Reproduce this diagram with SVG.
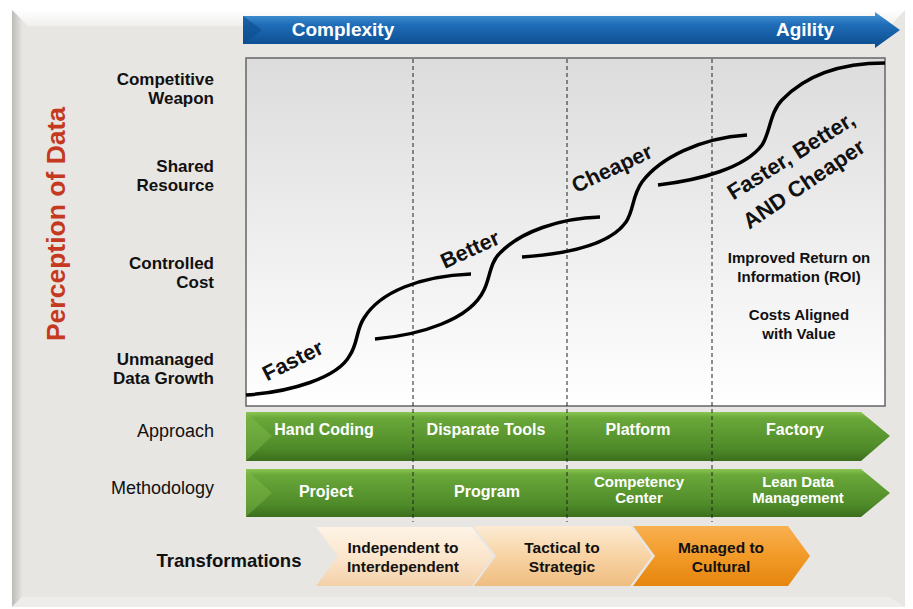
<svg xmlns="http://www.w3.org/2000/svg" width="913" height="609" viewBox="0 0 913 609">
<defs>
<linearGradient id="gLeft" x1="0" y1="0" x2="1" y2="0"><stop offset="0" stop-color="#bdbbb8"/><stop offset="1" stop-color="#e6e4e1"/></linearGradient>
<linearGradient id="gTop" x1="0" y1="0" x2="0" y2="1"><stop offset="0" stop-color="#ffffff"/><stop offset="1" stop-color="#f0efed"/></linearGradient>
<linearGradient id="gBlue" x1="0" y1="0" x2="0" y2="1"><stop offset="0" stop-color="#4a9ad8"/><stop offset="0.35" stop-color="#1f6db8"/><stop offset="1" stop-color="#0a4a8c"/></linearGradient>
<linearGradient id="gChart" x1="0" y1="0" x2="0" y2="1"><stop offset="0" stop-color="#dcdcdc"/><stop offset="1" stop-color="#ffffff"/></linearGradient>
<linearGradient id="gGreen" x1="0" y1="0" x2="0" y2="1"><stop offset="0" stop-color="#8cc653"/><stop offset="0.12" stop-color="#6aa83a"/><stop offset="0.75" stop-color="#4e8a28"/><stop offset="1" stop-color="#3c6e1c"/></linearGradient>
<linearGradient id="gT1" x1="0" y1="0" x2="0" y2="1"><stop offset="0" stop-color="#fdf3e6"/><stop offset="0.5" stop-color="#fbe6cd"/><stop offset="1" stop-color="#f3d1a8"/></linearGradient>
<linearGradient id="gT2" x1="0" y1="0" x2="0" y2="1"><stop offset="0" stop-color="#fcebd4"/><stop offset="0.5" stop-color="#f8d3a4"/><stop offset="1" stop-color="#efbd80"/></linearGradient>
<linearGradient id="gT3" x1="0" y1="0" x2="0" y2="1"><stop offset="0" stop-color="#f8b050"/><stop offset="0.5" stop-color="#f29a28"/><stop offset="1" stop-color="#e5860e"/></linearGradient>
<style>
text{font-family:"Liberation Sans",Arial,sans-serif;fill:#111}
.yl{font-size:17px;font-weight:bold;text-anchor:end}
.rl{font-size:18px;text-anchor:end}
.gt{font-size:16px;font-weight:bold;fill:#fff;text-anchor:middle}
.gt2{font-size:15px;font-weight:bold;fill:#fff;text-anchor:middle}
.tt{font-size:15.5px;font-weight:bold;text-anchor:middle}
.rt{font-size:15px;font-weight:bold;text-anchor:middle}
.ct{font-size:21.5px;font-weight:bold;text-anchor:middle}
.bt{font-size:19px;font-weight:bold;fill:#fff;text-anchor:middle}
.curve{fill:none;stroke:#000;stroke-width:3.5;stroke-linecap:butt}
.dash{stroke:#222;stroke-width:1;stroke-dasharray:4 3}
</style>
</defs>
<rect width="913" height="609" fill="#ffffff"/>
<g id="panel">
<rect x="12" y="10" width="893" height="597" fill="#e8e6e3"/>
<polygon points="12,10 905,10 890,26 28,26" fill="url(#gTop)"/>
<polygon points="12,10 22,20 22,597 12,607" fill="url(#gLeft)"/>
<polygon points="12,607 22,597 890,597 905,607" fill="#eeedeb"/>
</g>
<g id="complexity-arrow">
<polygon points="243,16 875,16 875,12 900,30 875,48 875,44 243,44" fill="url(#gBlue)"/>
<polygon points="243,16 262,30 243,44" fill="#0d4d8e" opacity="0.6"/>
<text class="bt" x="343" y="36">Complexity</text>
<text class="bt" x="805" y="36">Agility</text>
</g>
<g id="chart">
<rect x="246" y="58" width="639" height="348" fill="url(#gChart)" stroke="#666" stroke-width="1.5"/>
</g>
<g id="y-labels">
<text class="yl" x="214" y="85">Competitive</text>
<text class="yl" x="214" y="104">Weapon</text>
<text class="yl" x="214" y="172">Shared</text>
<text class="yl" x="214" y="191">Resource</text>
<text class="yl" x="214" y="269">Controlled</text>
<text class="yl" x="214" y="288">Cost</text>
<text class="yl" x="214" y="365">Unmanaged</text>
<text class="yl" x="214" y="384">Data Growth</text>
<text x="0" y="0" transform="translate(65,224) rotate(-90)" style="font-size:26.5px;font-weight:bold;fill:#c4391f;text-anchor:middle">Perception of Data</text>
</g>
<g id="approach-row">
<polygon points="246,412 861,412 890,436 861,461 246,461" fill="url(#gGreen)"/>
<polygon points="246,412 272,436 246,461" fill="#8cc653" opacity="0.35"/>
<text class="rl" x="214" y="437">Approach</text>
<text class="gt" x="324" y="435">Hand Coding</text>
<text class="gt" x="486" y="435">Disparate Tools</text>
<text class="gt" x="638" y="435">Platform</text>
<text class="gt" x="795" y="435">Factory</text>
</g>
<g id="methodology-row">
<polygon points="246,469 861,469 890,493 861,517 246,517" fill="url(#gGreen)"/>
<polygon points="246,469 272,493 246,517" fill="#8cc653" opacity="0.35"/>
<text class="rl" x="214" y="494">Methodology</text>
<text class="gt" x="326" y="497">Project</text>
<text class="gt" x="487" y="497">Program</text>
<text class="gt2" x="639" y="487">Competency</text>
<text class="gt2" x="639" y="503">Center</text>
<text class="gt2" x="798" y="487">Lean Data</text>
<text class="gt2" x="798" y="503">Management</text>
</g>
<g id="connectors">
<line class="dash" x1="413" y1="59" x2="413" y2="522"/>
<line class="dash" x1="567" y1="59" x2="567" y2="522"/>
<line class="dash" x1="712" y1="59" x2="712" y2="522"/>
<path class="curve" d="M246,395 C290,392 338,378 350,355 C358,343 356,330 364,318 C380,292 420,276 471,274"/>
<path class="curve" d="M375,339 C420,335 470,320 484,290 C490,278 490,262 500,253 C520,232 560,218 600,217"/>
<path class="curve" d="M522,257 C565,254 610,245 626,222 C634,210 632,196 642,182 C660,158 700,138 747,135"/>
<path class="curve" d="M658,185 C700,180 745,168 762,145 C770,133 770,112 782,100 C805,76 840,63 885,63"/>
</g>
<g id="curve-labels">
<text class="ct" transform="translate(296,367) rotate(-26.5)">Faster</text>
<text class="ct" transform="translate(473,256) rotate(-24.5)">Better</text>
<text class="ct" transform="translate(615,175) rotate(-25)">Cheaper</text>
<text class="ct" style="font-size:22px" transform="translate(795,162) rotate(-32)">Faster, Better,</text>
<text class="ct" style="font-size:22px" transform="translate(808,190) rotate(-34)">AND Cheaper</text>
</g>
<g id="benefits">
<text class="rt" x="799" y="263">Improved Return on</text>
<text class="rt" x="799" y="282">Information (ROI)</text>
<text class="rt" x="799" y="320">Costs Aligned</text>
<text class="rt" x="799" y="339">with Value</text>
</g>
<g id="transformations">
<text x="229" y="567" style="font-size:18.5px;font-weight:bold;text-anchor:middle">Transformations</text>
<g id="t1">
<polygon points="316,527 472,527 493,556 472,586 316,586 338,556" fill="url(#gT1)"/>
<text class="tt" x="403" y="553">Independent to</text>
<text class="tt" x="403" y="572">Interdependent</text>
</g>
<g id="t2">
<polygon points="474,526 630,526 652,556 630,586 474,586 496,556" fill="url(#gT2)"/>
<text class="tt" x="562" y="553">Tactical to</text>
<text class="tt" x="562" y="572">Strategic</text>
</g>
<g id="t3">
<polygon points="633,526 788,526 810,556 788,586 633,586 655,556" fill="url(#gT3)"/>
<text class="tt" x="721" y="553">Managed to</text>
<text class="tt" x="721" y="572">Cultural</text>
</g>
</g>
</svg>
